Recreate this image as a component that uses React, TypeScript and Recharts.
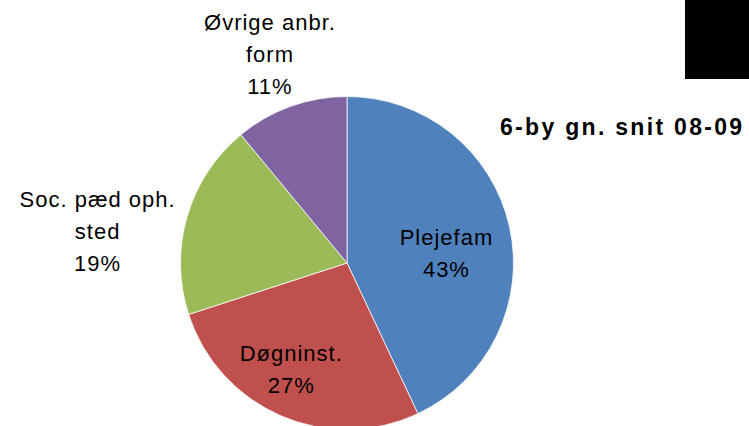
import { PieChart, Pie, Cell } from 'recharts'

const categories = ['Plejefam', 'Døgninst.', 'Soc. pæd oph. sted', 'Øvrige anbr. form']
const labelLines = [['Plejefam'], ['Døgninst.'], ['Soc. pæd oph.', 'sted'], ['Øvrige anbr.', 'form']]
const shares = [43, 27, 19, 11]
const colors = ['#4F81BD', '#C0504D', '#9BBB59', '#8064A2']

const data = categories.map((name, i) => ({ name, value: shares[i] }))

// where Excel put each label: distance as a fraction of the radius, and a nudge off the slice's mid angle
const labelPlace = [
  { r: 0.6, turn: -7 },
  { r: 0.72, turn: -4.3 },
  { r: 1.51, turn: 8.9 },
  { r: 1.34, turn: 0.4 },
]

const FONT = '"Liberation Sans", Arial, sans-serif'
const RAD = Math.PI / 180
const LINE = 32

function renderLabel(props: any) {
  const { cx, cy, midAngle, outerRadius, index, value } = props
  const place = labelPlace[index]
  const a = (midAngle + place.turn) * RAD
  const x = cx + outerRadius * place.r * Math.cos(a)
  const y = cy - outerRadius * place.r * Math.sin(a)
  const lines = [...labelLines[index], `${value}%`]
  const first = y - ((lines.length - 1) * LINE) / 2 + 8
  return (
    <text x={x} textAnchor="middle" fill="#000" style={{ fontFamily: FONT, fontSize: 22, letterSpacing: 1 }}>
      {lines.map((t, i) => (
        <tspan key={i} x={x} y={first + i * LINE}>{t}</tspan>
      ))}
    </text>
  )
}

export default function App() {
  return (
    <div style={{ position: 'absolute', left: 0, top: 0, width: 749, height: 426, background: '#fff', overflow: 'hidden' }}>
      <PieChart width={749} height={426} margin={{ top: 0, right: 0, bottom: 0, left: 0 }}>
        <Pie
          data={data}
          dataKey="value"
          nameKey="name"
          cx={347}
          cy={263}
          outerRadius={166.5}
          startAngle={90}
          endAngle={-270}
          stroke="#ffffff"
          strokeWidth={0.75}
          label={renderLabel}
          labelLine={false}
          isAnimationActive={false}
        >
          {data.map((d, i) => (
            <Cell key={d.name} fill={colors[i]} />
          ))}
        </Pie>
      </PieChart>
      <div style={{ position: 'absolute', left: 685, top: 0, width: 64, height: 79, background: '#000' }} />
      <div style={{ position: 'absolute', left: 500, top: 113, fontFamily: FONT, fontWeight: 700, fontSize: 23, letterSpacing: 2.3, lineHeight: '28px', whiteSpace: 'nowrap', color: '#000' }}>
        6-by gn. snit 08-09
      </div>
    </div>
  )
}
